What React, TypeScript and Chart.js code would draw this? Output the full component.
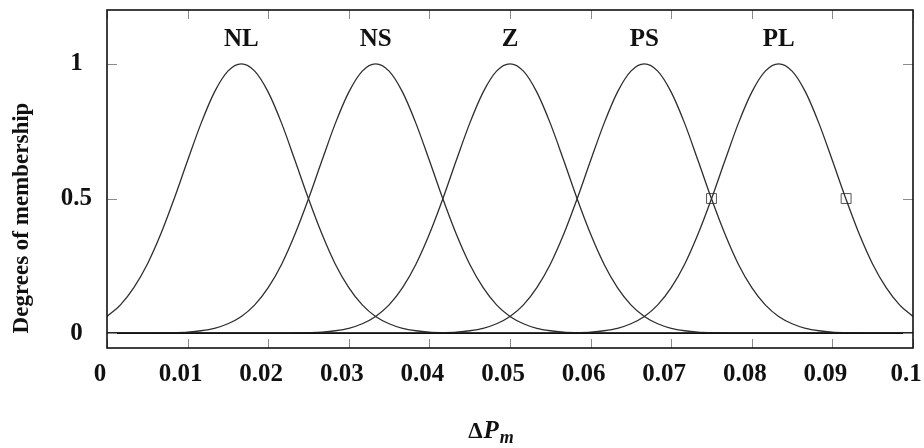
import { useEffect, useRef } from "react";
import { Chart, registerables } from "chart.js";

Chart.register(...registerables);

// x positions of sampled points (ΔPm)
const xs = [
  0, 0.00167, 0.00333, 0.005, 0.00667, 0.00833, 0.01, 0.01167, 0.01333, 0.015,
  0.01667, 0.01833, 0.02, 0.02167, 0.02333, 0.025, 0.02667, 0.02833, 0.03, 0.03167,
  0.03333, 0.035, 0.03667, 0.03833, 0.04, 0.04167, 0.04333, 0.045, 0.04667, 0.04833,
  0.05, 0.05167, 0.05333, 0.055, 0.05667, 0.05833, 0.06, 0.06167, 0.06333, 0.065,
  0.06667, 0.06833, 0.07, 0.07167, 0.07333, 0.075, 0.07667, 0.07833, 0.08, 0.08167,
  0.08333, 0.085, 0.08667, 0.08833, 0.09, 0.09167, 0.09333, 0.095, 0.09667, 0.09833,
  0.1,
];

const nl = [
  0.062, 0.105, 0.169, 0.256, 0.368, 0.499, 0.641, 0.779, 0.895, 0.973,
  1, 0.973, 0.895, 0.779, 0.641, 0.499, 0.368, 0.256, 0.169, 0.105,
  0.062, 0.035, 0.018, 0.009, 0.004, 0.002, 0.001, 0, 0, 0,
  0, 0, 0, 0, 0, 0, 0, 0, 0, 0,
  0, 0, 0, 0, 0, 0, 0, 0, 0, 0,
  0, 0, 0, 0, 0, 0, 0, 0, 0, 0,
  0,
];

const ns = [
  0, 0, 0, 0, 0.001, 0.002, 0.004, 0.009, 0.018, 0.035,
  0.062, 0.105, 0.169, 0.256, 0.368, 0.499, 0.641, 0.779, 0.895, 0.973,
  1, 0.973, 0.895, 0.779, 0.641, 0.499, 0.368, 0.256, 0.169, 0.105,
  0.062, 0.035, 0.018, 0.009, 0.004, 0.002, 0.001, 0, 0, 0,
  0, 0, 0, 0, 0, 0, 0, 0, 0, 0,
  0, 0, 0, 0, 0, 0, 0, 0, 0, 0,
  0,
];

const z = [
  0, 0, 0, 0, 0, 0, 0, 0, 0, 0,
  0, 0, 0, 0, 0.001, 0.002, 0.004, 0.009, 0.018, 0.035,
  0.062, 0.105, 0.169, 0.256, 0.368, 0.499, 0.641, 0.779, 0.895, 0.973,
  1, 0.973, 0.895, 0.779, 0.641, 0.499, 0.368, 0.256, 0.169, 0.105,
  0.062, 0.035, 0.018, 0.009, 0.004, 0.002, 0.001, 0, 0, 0,
  0, 0, 0, 0, 0, 0, 0, 0, 0, 0,
  0,
];

const ps = [
  0, 0, 0, 0, 0, 0, 0, 0, 0, 0,
  0, 0, 0, 0, 0, 0, 0, 0, 0, 0,
  0, 0, 0, 0, 0.001, 0.002, 0.004, 0.009, 0.018, 0.035,
  0.062, 0.105, 0.169, 0.256, 0.368, 0.499, 0.641, 0.779, 0.895, 0.973,
  1, 0.973, 0.895, 0.779, 0.641, 0.499, 0.368, 0.256, 0.169, 0.105,
  0.062, 0.035, 0.018, 0.009, 0.004, 0.002, 0.001, 0, 0, 0,
  0,
];

const pl = [
  0, 0, 0, 0, 0, 0, 0, 0, 0, 0,
  0, 0, 0, 0, 0, 0, 0, 0, 0, 0,
  0, 0, 0, 0, 0, 0, 0, 0, 0, 0,
  0, 0, 0, 0, 0.001, 0.002, 0.004, 0.009, 0.018, 0.035,
  0.062, 0.105, 0.169, 0.256, 0.368, 0.499, 0.641, 0.779, 0.895, 0.973,
  1, 0.973, 0.895, 0.779, 0.641, 0.499, 0.368, 0.256, 0.169, 0.105,
  0.062,
];

const setNames = ["NL", "NS", "Z", "PS", "PL"];
const setPeaks = [0.01667, 0.03333, 0.05, 0.06667, 0.08333];
const labelLevel = 1.09;

const markerX = [0.075, 0.0917];
const markerY = [0.5, 0.5];

const baselineX = [0, 0.1];
const baselineY = [0, 0];

const xTickValues = [0, 0.01, 0.02, 0.03, 0.04, 0.05, 0.06, 0.07, 0.08, 0.09, 0.1];
const xTickLabels = ["0", "0.01", "0.02", "0.03", "0.04", "0.05", "0.06", "0.07", "0.08", "0.09", "0.1"];
const yTickValues = [0, 0.5, 1];
const yTickLabels = ["0", "0.5", "1"];

const yTitle = "Degrees of membership";

const SERIF = '"Liberation Serif", "Times New Roman", serif';

const decorPlugin = {
  id: "decor",
  afterDraw(chart: any) {
    const { ctx, chartArea } = chart;
    const xs_ = chart.scales.x;
    const ys_ = chart.scales.y;
    const { left, right, top, bottom } = chartArea;
    ctx.save();
    // inner tick marks
    ctx.strokeStyle = "#8a8a8a";
    ctx.lineWidth = 1;
    ctx.beginPath();
    xTickValues.forEach((v) => {
      const px = Math.round(xs_.getPixelForValue(v)) + 0.5;
      ctx.moveTo(px, bottom);
      ctx.lineTo(px, bottom - 9);
      ctx.moveTo(px, top);
      ctx.lineTo(px, top + 9);
    });
    yTickValues.forEach((v) => {
      const py = Math.round(ys_.getPixelForValue(v)) + 0.5;
      ctx.moveTo(left, py);
      ctx.lineTo(left + 10, py);
      ctx.moveTo(right, py);
      ctx.lineTo(right - 10, py);
    });
    ctx.stroke();
    // frame
    ctx.strokeStyle = "#111";
    ctx.lineWidth = 1.6;
    ctx.strokeRect(left, top, right - left, bottom - top);
    // set labels
    ctx.fillStyle = "#111";
    ctx.font = `bold 25px ${SERIF}`;
    ctx.textAlign = "center";
    ctx.textBaseline = "middle";
    setNames.forEach((n, i) => {
      ctx.fillText(n, xs_.getPixelForValue(setPeaks[i]), ys_.getPixelForValue(labelLevel));
    });
    // y title
    ctx.save();
    ctx.translate(28, 218);
    ctx.rotate(-Math.PI / 2);
    ctx.font = `bold 23px ${SERIF}`;
    ctx.textAlign = "center";
    ctx.textBaseline = "alphabetic";
    ctx.fillText(yTitle, 0, 0);
    ctx.restore();
    // x title: ΔP_m
    const big = `bold 23px ${SERIF}`;
    const bigIt = `italic bold 25px ${SERIF}`;
    const sub = `italic bold 18px ${SERIF}`;
    ctx.textAlign = "left";
    ctx.textBaseline = "alphabetic";
    ctx.font = big;
    const wD = ctx.measureText("Δ").width;
    ctx.font = bigIt;
    const wP = ctx.measureText("P").width;
    ctx.font = sub;
    const wm = ctx.measureText("m").width;
    const total = wD + wP + wm + 2;
    const cx = 491;
    let x0 = cx - total / 2;
    const base = 438;
    ctx.font = big;
    ctx.fillText("Δ", x0, base);
    x0 += wD + 1;
    ctx.font = bigIt;
    ctx.fillText("P", x0, base);
    x0 += wP + 1;
    ctx.font = sub;
    ctx.fillText("m", x0, base + 5);
    ctx.restore();
  },
};

export default function App() {
  const ref = useRef<HTMLCanvasElement | null>(null);
  useEffect(() => {
    document.body.style.margin = "0";
    const canvas = ref.current;
    if (!canvas) return;
    const curve = (label: string, vals: number[]) => ({
      label,
      data: xs.map((x, i) => ({ x, y: vals[i] })),
      borderColor: "#2e2e2e",
      borderWidth: 1.3,
      pointRadius: 0,
      cubicInterpolationMode: "monotone" as const,
      fill: false,
    });
    const chart = new Chart(canvas, {
      type: "line",
      data: {
        datasets: [
          {
            label: "zero",
            data: baselineX.map((x, i) => ({ x, y: baselineY[i] })),
            borderColor: "#111",
            borderWidth: 1.6,
            pointRadius: 0,
            fill: false,
          },
          curve("NL", nl),
          curve("NS", ns),
          curve("Z", z),
          curve("PS", ps),
          curve("PL", pl),
          {
            label: "markers",
            data: markerX.map((x, i) => ({ x, y: markerY[i] })),
            showLine: false,
            pointStyle: "rect",
            pointRadius: 7,
            pointBorderColor: "#555",
            pointBackgroundColor: "rgba(255,255,255,0)",
            pointBorderWidth: 1,
            borderColor: "#555",
          },
        ],
      },
      options: {
        animation: false,
        responsive: false,
        devicePixelRatio: 1,
        layout: { padding: { left: 0, right: 11, top: 10, bottom: 0 } },
        plugins: { legend: { display: false }, tooltip: { enabled: false } },
        scales: {
          x: {
            type: "linear",
            min: 0,
            max: 0.1,
            afterBuildTicks: (s: any) => {
              s.ticks = xTickValues.map((v) => ({ value: v }));
            },
            afterFit: (s: any) => {
              s.height = 100;
              s.paddingLeft = 0;
              s.paddingRight = 0;
              s.paddingTop = 0;
              s.paddingBottom = 0;
            },
            ticks: {
              autoSkip: false,
              maxRotation: 0,
              padding: 12,
              labelOffset: -7,
              color: "#111",
              font: { family: SERIF, size: 25, weight: "bold" },
              callback: (_v: any, i: number) => xTickLabels[i],
            },
            grid: { display: false, drawTicks: false },
            border: { display: false },
          },
          y: {
            type: "linear",
            min: -0.055,
            max: 1.2,
            afterBuildTicks: (s: any) => {
              s.ticks = yTickValues.map((v) => ({ value: v }));
            },
            afterFit: (s: any) => {
              s.width = 107;
              s.paddingLeft = 0;
              s.paddingRight = 0;
              s.paddingTop = 0;
              s.paddingBottom = 0;
            },
            ticks: {
              crossAlign: "center",
              padding: 15,
              color: "#111",
              font: { family: SERIF, size: 25, weight: "bold" },
              callback: (_v: any, i: number) => yTickLabels[i],
            },
            grid: { display: false, drawTicks: false },
            border: { display: false },
          },
        },
      },
      plugins: [decorPlugin],
    });
    return () => chart.destroy();
  }, []);
  return (
    <div style={{ width: 924, height: 448 }}>
      <canvas ref={ref} width={924} height={448} style={{ display: "block" }} />
    </div>
  );
}
